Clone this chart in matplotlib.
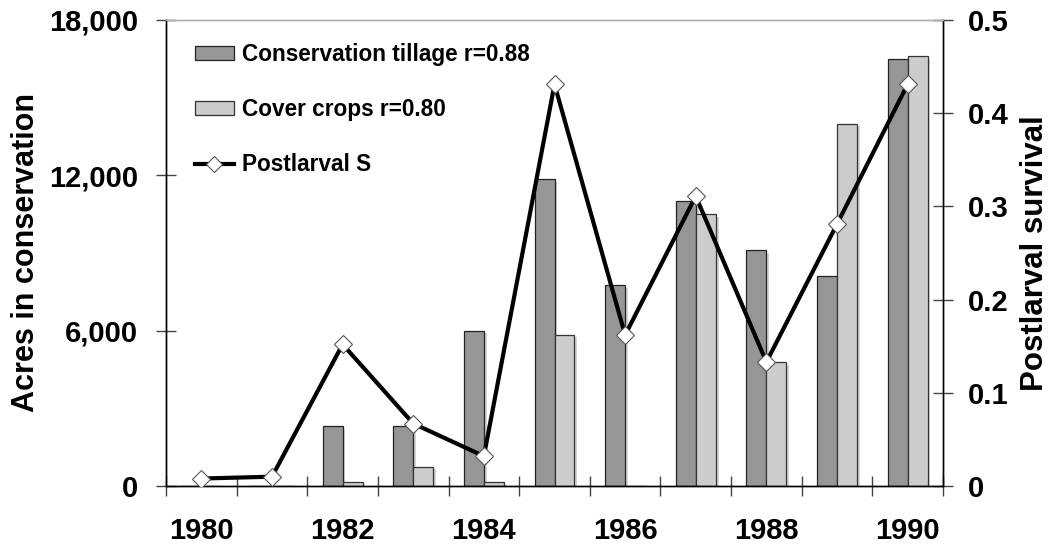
import matplotlib
matplotlib.use('Agg')
import matplotlib.pyplot as plt
import matplotlib.patheffects as pe
from matplotlib.lines import Line2D
from matplotlib.patches import Patch
import numpy as np

# data
years = [1980, 1981, 1982, 1983, 1984, 1985, 1986, 1987, 1988, 1989, 1990]
tillage = [0, 0, 2300, 2300, 6000, 11850, 7750, 11000, 9100, 8100, 16500]
cover = [0, 0, 150, 750, 150, 5850, 0, 10500, 4800, 14000, 16600]
survival = [0.008, 0.010, 0.152, 0.067, 0.032, 0.431, 0.162, 0.311, 0.133, 0.281, 0.431]

plt.rcParams['font.family'] = ['Liberation Sans', 'DejaVu Sans']
plt.rcParams['font.weight'] = 'bold'

fig = plt.figure(figsize=(10.53, 5.46), dpi=100)
ax = fig.add_axes([0.1577, 0.1099, 0.7378, 0.8535])
ax2 = ax.twinx()

x = np.arange(len(years))
w = 0.283
shadow = [pe.SimplePatchShadow(offset=(2, -2), shadow_rgbFace='#d4d4d4', alpha=1), pe.Normal()]
ax.bar(x - w / 2, tillage, w, color='#969696', edgecolor='#222222', linewidth=0.9,
       path_effects=shadow, zorder=2)
ax.bar(x + w / 2, cover, w, color='#cccccc', edgecolor='#333333', linewidth=0.9,
       path_effects=shadow, zorder=2)

ax2.plot(x, survival, color='black', linewidth=3.0, marker='D', markersize=9.5,
         markerfacecolor='white', markeredgecolor='#555555', markeredgewidth=0.8, zorder=3)

ax.set_xlim(-0.5, len(years) - 0.5)
ax.set_ylim(0, 18000)
ax2.set_ylim(0, 0.5)

# year labels at category centres, tick marks at category boundaries
ax.set_xticks(x[::2])
ax.set_xticklabels([str(y) for y in years[::2]])
ax.set_xticks(np.arange(-0.5, len(years), 1.0), minor=True)
ax.tick_params(axis='x', which='major', length=0, pad=22, labelsize=21)
ax.tick_params(axis='x', which='minor', direction='inout', length=14, width=1, color='#444444')

ax.set_yticks([0, 6000, 12000, 18000])
ax.set_yticklabels(['0', '6,000', '12,000', '18,000'])
ax.tick_params(axis='y', direction='inout', length=14, width=1, labelsize=21, pad=13, color='#444444')

ax2.set_yticks([0, 0.1, 0.2, 0.3, 0.4, 0.5])
ax2.set_yticklabels(['0', '0.1', '0.2', '0.3', '0.4', '0.5'])
ax2.tick_params(axis='y', direction='inout', length=14, width=1, labelsize=21, pad=11, color='#444444')

for a in (ax, ax2):
    a.spines['top'].set_color('#b0b0b0')
    a.spines['left'].set_color('black')
    a.spines['right'].set_color('black')
    a.spines['bottom'].set_color('black')
    for s in a.spines.values():
        s.set_linewidth(1)

ax.set_ylabel('Acres in conservation', fontsize=22, fontweight='bold', labelpad=6)
ax2.set_ylabel('Postlarval survival', fontsize=22.5, fontweight='bold', labelpad=8)

handles = [
    Patch(facecolor='#969696', edgecolor='#222222', linewidth=0.9),
    Patch(facecolor='#cccccc', edgecolor='#333333', linewidth=0.9),
    Line2D([], [], color='black', linewidth=3.0, marker='D', markersize=8,
           markerfacecolor='white', markeredgecolor='#555555', markeredgewidth=0.8),
]
labels = ['Conservation tillage r=0.88', 'Cover crops r=0.80', 'Postlarval S']
leg = ax2.legend(handles, labels, loc='upper left', bbox_to_anchor=(0.025, 0.970),
                 frameon=False, fontsize=16.3, labelspacing=1.42, handlelength=1.75,
                 handleheight=0.55, handletextpad=0.35, borderaxespad=0)
for t in leg.get_texts():
    t.set_fontweight('bold')

fig.savefig('out.png', dpi=100)
